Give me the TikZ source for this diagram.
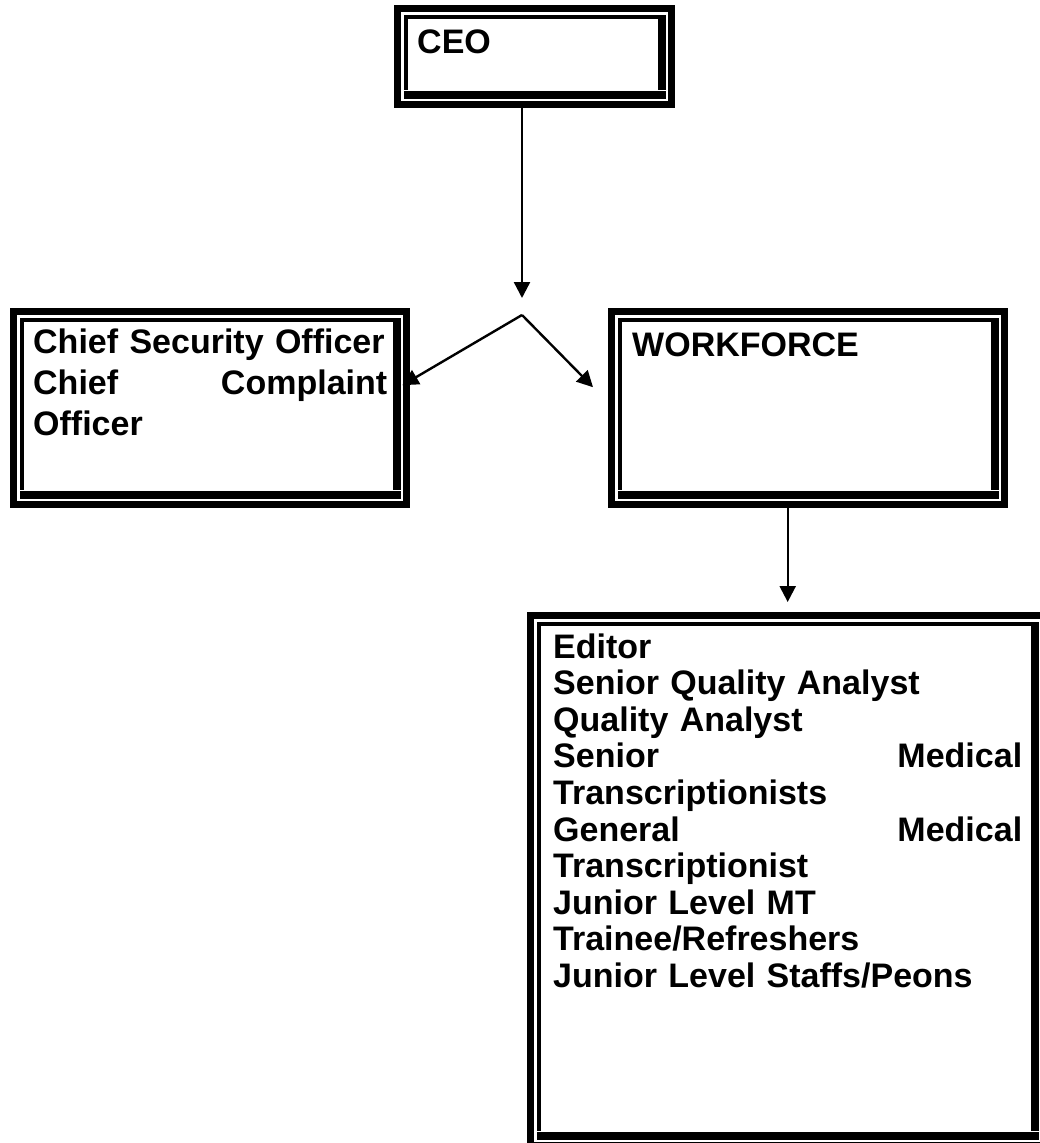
\documentclass[tikz,border=0pt]{standalone}
\usepackage{fontspec}
\setmainfont{Liberation Sans}
\usetikzlibrary{arrows.meta,positioning,calc}

\tikzset{
    tierbox/.style={rectangle, draw=none, inner sep=0pt, anchor=north west},
    tiertext/.style={anchor=base west, inner sep=0pt, align=left,
        font=\bfseries\fontsize{34}{36.6}\selectfont},
    link/.style={line width=2.4pt, -{Triangle[length=16pt,width=16pt]}},
}

% heavy outer line, thin inner line on top/left, heavy inner line on bottom/right
\newcommand{\tierframe}[1]{%
    \draw[line width=7pt] ([shift={(3.5,3.5)}]#1.north west) rectangle ([shift={(-3.5,-3.5)}]#1.south east);
    \fill ([shift={(9.5,9.5)}]#1.north west) rectangle ([shift={(-9.5,13.5)}]#1.north east);
    \fill ([shift={(9.5,9.5)}]#1.north west) rectangle ([shift={(13.5,-18)}]#1.south west);
    \fill ([shift={(-17,9.5)}]#1.north east) rectangle ([shift={(-9.5,-18)}]#1.south east);
    \fill ([shift={(9.5,-17)}]#1.south west) rectangle ([shift={(-9.5,-9.5)}]#1.south east);
}

\begin{document}
\begin{tikzpicture}[x=1pt,y=-1pt]
    \useasboundingbox (0,0) rectangle (1040,1143);
    \clip (0,0) rectangle (1040,1143);

    % Top
    \node[tierbox, minimum width=281pt, minimum height=103pt] (ceo) at (394,5) {};
    \tierframe{ceo}
    \node[tiertext, text width=240pt] (ceo-text) at ([shift={(23,48)}]ceo.north west) {CEO};

    % Second level
    \node[tierbox, minimum width=400pt, minimum height=200pt] (cso) at (10,308) {};
    \tierframe{cso}
    \node[tiertext, text width=354pt, font=\bfseries\fontsize{34}{41}\selectfont]
        (cso-text) at ([shift={(23,45)}]cso.north west)
        {Chief Security Officer\\ Chief\hfill Complaint\\ Officer};

    \node[tierbox, minimum width=400pt, minimum height=200pt] (workforce) at (608,308) {};
    \tierframe{workforce}
    \node[tiertext, text width=354pt] (workforce-text) at ([shift={(24,48)}]workforce.north west) {WORKFORCE};

    % Third level (runs off the page)
    \node[tierbox, minimum width=521pt, minimum height=537pt] (duties) at (527,612) {};
    \tierframe{duties}
    \node[tiertext, text width=469pt] (duties-text) at ([shift={(26,46)}]duties.north west)
        {Editor\\
         Senior Quality Analyst\\
         Quality Analyst\\
         Senior\hfill Medical\\
         Transcriptionists\\
         General\hfill Medical\\
         Transcriptionist\\
         Junior Level MT\\
         Trainee/Refreshers\\
         Junior Level Staffs/Peons};

    % Connectors
    \coordinate (fork) at (522,315);
    \coordinate (fork-top) at (522,298);
    \draw[link] (ceo.south -| fork) -- (fork-top);
    \draw[link] (fork) -- ([shift={(-8,-23)}]cso.east);
    \draw[link] (fork) -- ([shift={(-15,-21)}]workforce.west);
    \draw[link] (workforce.south -| duties.north) -- ([yshift=10pt]duties.north);
\end{tikzpicture}
\end{document}
